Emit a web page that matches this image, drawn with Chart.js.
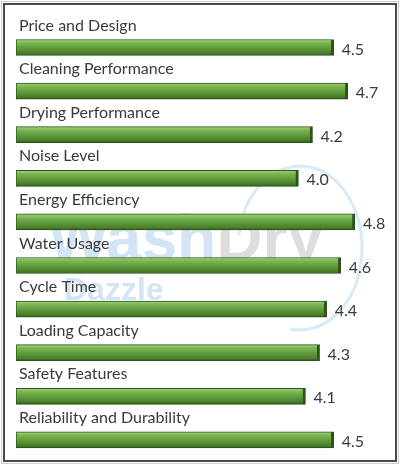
<!DOCTYPE html>
<html>
<head>
<meta charset="utf-8">
<script src="https://cdn.jsdelivr.net/npm/chart.js@4"></script>
<style>
  html, body { margin: 0; padding: 0; background: #fff; }
  #wrap { width: 400px; height: 466px; position: relative; }
</style>
</head>
<body>
<div id="wrap"><canvas id="ratingChart" width="400" height="466"></canvas></div>
<script>
const categories = [
    'Price and Design',
    'Cleaning Performance',
    'Drying Performance',
    'Noise Level',
    'Energy Efficiency',
    'Water Usage',
    'Cycle Time',
    'Loading Capacity',
    'Safety Features',
    'Reliability and Durability'
];
const ratings = [4.5, 4.7, 4.2, 4.0, 4.8, 4.6, 4.4, 4.3, 4.1, 4.5];

const LABEL_FONT = '16px Lato, "Open Sans", sans-serif';

// cylinder-like shading for each bar, built from the bar's own row position
function barGradient(context) {
    const chart = context.chart;
    const yScale = chart.scales.y;
    if (!chart.chartArea || !yScale) return '#5f9a3a';
    const c = yScale.getPixelForValue(context.dataIndex);
    const g = chart.ctx.createLinearGradient(0, c - 8, 0, c + 8);
    g.addColorStop(0, '#a3d47c');
    g.addColorStop(0.2, '#7db855');
    g.addColorStop(0.55, '#5e9a39');
    g.addColorStop(0.85, '#4a7f2b');
    g.addColorStop(1, '#2f5a1a');
    return g;
}

const watermark = {
    id: 'watermark',
    beforeDatasetsDraw(chart) {
        const ctx = chart.ctx;
        ctx.save();
        ctx.strokeStyle = 'rgba(140, 195, 235, 0.35)';
        ctx.lineWidth = 3;
        ctx.beginPath();
        ctx.ellipse(300, 248, 62, 82, 0, -Math.PI * 0.95, Math.PI * 0.55);
        ctx.stroke();
        ctx.textBaseline = 'alphabetic';
        ctx.font = 'bold 64px "Liberation Sans", sans-serif';
        ctx.fillStyle = 'rgba(110, 165, 220, 0.30)';
        ctx.fillText('Wash', 48, 260);
        const w = ctx.measureText('Wash').width;
        ctx.fillStyle = 'rgba(150, 150, 150, 0.32)';
        ctx.fillText('Dry', 48 + w, 260);
        ctx.font = 'bold 32px "Liberation Sans", sans-serif';
        ctx.fillStyle = 'rgba(110, 165, 220, 0.30)';
        ctx.fillText('Dazzle', 64, 300);
        ctx.restore();
    }
};

const barLabels = {
    id: 'barLabels',
    afterDatasetsDraw(chart) {
        const ctx = chart.ctx;
        const meta = chart.getDatasetMeta(0);
        ctx.save();
        ctx.font = LABEL_FONT;
        ctx.fillStyle = '#3a3a3a';
        meta.data.forEach((bar, i) => {
            ctx.textAlign = 'left';
            ctx.textBaseline = 'alphabetic';
            ctx.fillText(categories[i], 19, bar.y - 8 - 9);
            ctx.textBaseline = 'middle';
            ctx.fillText(ratings[i].toFixed(1), bar.x + 8, bar.y + 2);
        });
        ctx.restore();
    },
    afterDraw(chart) {
        const ctx = chart.ctx;
        ctx.save();
        ctx.strokeStyle = '#d0d0d0';
        ctx.lineWidth = 1;
        ctx.strokeRect(1.5, 1.5, 397, 462);
        ctx.strokeStyle = '#4a4a4a';
        ctx.lineWidth = 2;
        ctx.strokeRect(4, 4, 392, 457);
        ctx.restore();
    }
};

new Chart(document.getElementById('ratingChart'), {
    type: 'bar',
    data: {
        labels: categories,
        datasets: [{
            data: ratings,
            backgroundColor: barGradient,
            borderColor: '#2d5418',
            borderWidth: { left: 1, top: 1, bottom: 1, right: 3 },
            borderSkipped: false,
            barThickness: 16
        }]
    },
    options: {
        indexAxis: 'y',
        responsive: false,
        animation: false,
        devicePixelRatio: 1,
        layout: { padding: { left: 16, right: 31, top: 25.7, bottom: 4.3 } },
        scales: {
            x: { min: 0, max: 5, display: false },
            y: { display: false }
        },
        plugins: {
            legend: { display: false },
            tooltip: { enabled: false }
        }
    },
    plugins: [watermark, barLabels]
});
</script>
</body>
</html>
